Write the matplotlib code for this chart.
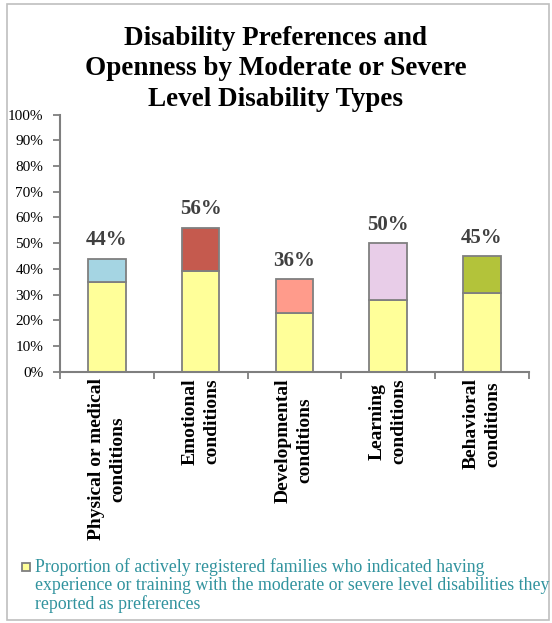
# Disability preferences and openness chart
import matplotlib.pyplot as plt
from matplotlib.patches import Rectangle

plt.rcParams['font.family'] = ['Liberation Serif', 'DejaVu Serif']

categories = ['Physical or medical\nconditions', 'Emotional\nconditions',
              'Developmental\nconditions', 'Learning\nconditions', 'Behavioral\nconditions']
experience = [35, 39, 23, 28, 30.5]
totals = [44, 56, 36, 50, 45]
total_labels = ['44%', '56%', '36%', '50%', '45%']
top_colors = ['#A5D5E3', '#C55A4E', '#FF9B8B', '#E8CDE8', '#B3C33A']
yticks = list(range(0, 101, 10))

fig = plt.figure(figsize=(5.52, 6.23), dpi=100)
ax = fig.add_axes([0.1087, 0.4034, 0.8493, 0.4125])

x = list(range(len(categories)))
rest = [t - e for t, e in zip(totals, experience)]
ax.bar(x, experience, width=0.4, color='#FFFF99', edgecolor='#7F7F7F', linewidth=1.3)
ax.bar(x, rest, bottom=experience, width=0.4, color=top_colors,
       edgecolor='#7F7F7F', linewidth=1.3)

for i in x:
    ax.annotate(total_labels[i], (i, totals[i]), xytext=(0, 6), textcoords='offset points',
                ha='center', va='bottom', fontsize=15, fontweight='bold', color='#404040')

ax.set_xlim(-0.5, len(categories) - 0.5)
ax.set_ylim(0, 100)
ax.set_yticks(yticks)
ax.set_yticklabels([f'{v}%' for v in yticks], fontsize=11)
ax.set_xticks(x)
ax.set_xticklabels([])
ax.set_xticks([i - 0.5 for i in range(len(categories) + 1)], minor=True)
ax.tick_params(axis='x', which='major', length=0)
ax.tick_params(axis='x', which='minor', length=5, color='#7F7F7F', width=1.3, direction='out')
ax.tick_params(axis='y', length=5, color='#7F7F7F', width=1.3, direction='out', pad=7)

for s in ['top', 'right']:
    ax.spines[s].set_visible(False)
for s in ['left', 'bottom']:
    ax.spines[s].set_color('#7F7F7F')
    ax.spines[s].set_linewidth(1.5)

for i, c in enumerate(categories):
    ax.text(i, -2.6, c, rotation=90, ha='center', va='top', multialignment='center',
            fontsize=14, fontweight='bold', linespacing=1.35)

fig.text(0.5, 0.958, 'Disability Preferences and\nOpenness by Moderate or Severe\nLevel Disability Types',
         ha='center', va='top', fontsize=19.5, fontweight='bold', linespacing=1.28)

# legend box
fig.patches.append(Rectangle((22 / 552, 1 - 571 / 623), 8 / 552, 8 / 623, transform=fig.transFigure,
                             facecolor='#FFFF99', edgecolor='#7F7F7F', linewidth=1.3))
fig.text(35 / 552, 1 - 558 / 623,
         'Proportion of actively registered families who indicated having\n'
         'experience or training with the moderate or severe level disabilities they\n'
         'reported as preferences',
         ha='left', va='top', fontsize=12.8, color='#31939E', linespacing=1.08)

# outer frame
fig.patches.append(Rectangle((7 / 552, 3 / 623), 542 / 552, 616 / 623, transform=fig.transFigure,
                             fill=False, edgecolor='#BFBFBF', linewidth=1.2))

fig.savefig('out.png', dpi=100)
